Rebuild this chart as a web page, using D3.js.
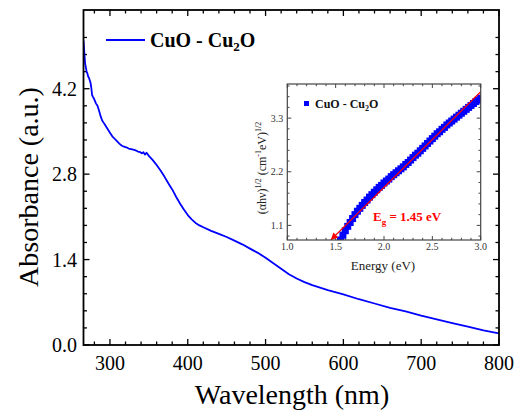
<!DOCTYPE html>
<html><head><meta charset="utf-8">
<script src="https://cdn.jsdelivr.net/npm/d3@7"></script>
<style>body{margin:0;background:#fff}svg{display:block}</style>
</head><body>
<svg id="c" width="517" height="415" font-family="'Liberation Serif', Tinos, 'DejaVu Serif', 'Times New Roman', serif"></svg>
<script>
// Main spectrum: wavelength (nm) and absorbance (a.u.)
const wavelength = [266,267,268,269,270,271,272,273,274,275,276,277,278,279,280,282,284,286,288,290,292,294,296,298,300,303,306,309,312,315,318,321,324,327,330,333,336,339,341,343,345,347,350,355,360,365,370,375,380,385,390,395,400,405,410,415,420,430,440,450,460,470,480,490,500,510,520,530,540,550,560,570,580,600,620,640,660,680,700,720,740,760,780,800];
const absorbance = [4.99,4.80,4.62,4.55,4.48,4.45,4.40,4.38,4.34,4.30,4.22,4.10,4.07,4.05,4.02,3.96,3.92,3.84,3.75,3.68,3.64,3.60,3.56,3.52,3.48,3.42,3.38,3.34,3.30,3.27,3.25,3.24,3.22,3.21,3.20,3.19,3.17,3.16,3.14,3.16,3.12,3.15,3.10,3.03,2.95,2.86,2.76,2.65,2.55,2.43,2.32,2.22,2.13,2.06,2.00,1.96,1.93,1.87,1.82,1.77,1.71,1.65,1.58,1.51,1.43,1.34,1.25,1.16,1.09,1.03,0.98,0.94,0.90,0.83,0.75,0.68,0.61,0.55,0.48,0.42,0.36,0.30,0.24,0.19];
const xTicks = [300,400,500,600,700,800];
const yTicks = [0.0,1.4,2.8,4.2];

// Inset Tauc plot
const energy = [1.55,1.575,1.60,1.625,1.65,1.675,1.70,1.725,1.75,1.775,1.80,1.825,1.85,1.875,1.90,1.925,1.95,1.975,2.00,2.025,2.05,2.075,2.10,2.125,2.15,2.175,2.20,2.225,2.25,2.275,2.30,2.325,2.35,2.375,2.40,2.425,2.45,2.475,2.50,2.525,2.55,2.575,2.60,2.625,2.65,2.675,2.70,2.725,2.75,2.775,2.80,2.825,2.85,2.875,2.90,2.925,2.95,2.975,3.00];
const tauc = [0.80,0.90,0.99,1.08,1.16,1.24,1.32,1.39,1.45,1.51,1.57,1.62,1.68,1.73,1.78,1.83,1.88,1.92,1.97,2.01,2.05,2.10,2.14,2.18,2.22,2.26,2.30,2.35,2.39,2.44,2.49,2.54,2.58,2.63,2.68,2.73,2.78,2.83,2.88,2.93,2.98,3.02,3.07,3.11,3.16,3.20,3.24,3.28,3.32,3.36,3.40,3.44,3.48,3.52,3.56,3.60,3.64,3.67,3.71];
const fitLine = [[1.45,0.80],[3.00,3.84]];
const insetXTicks = [1.0,1.5,2.0,2.5,3.0];
const insetYTicks = [1.1,2.2,3.3];

const svg = d3.select("#c");
const L=83.5,R=499,T=10,B=345;
const x = d3.scaleLinear().domain([266,800]).range([L,R]);
const y = d3.scaleLinear().domain([0,5.49]).range([B,T]);

const defs = svg.append("defs");
defs.append("clipPath").attr("id","cp").append("rect").attr("x",L).attr("y",T).attr("width",R-L).attr("height",B-T);

function ticksMain(){
  const g = svg.append("g").attr("stroke","#000").attr("stroke-width",1.3);
  d3.range(280,801,20).forEach(v=>{
    const maj = v%100===0, len = maj?6:3.5;
    g.append("line").attr("x1",x(v)).attr("x2",x(v)).attr("y1",B).attr("y2",B-len);
    g.append("line").attr("x1",x(v)).attr("x2",x(v)).attr("y1",T).attr("y2",T+len);
  });
  d3.range(0,19).map(i=>i*0.28).filter(v=>v<=5.49).forEach((v,i)=>{
    const maj = i%5===0, len = maj?6:3.5;
    g.append("line").attr("x1",L).attr("x2",L+len).attr("y1",y(v)).attr("y2",y(v));
    g.append("line").attr("x1",R).attr("x2",R-len).attr("y1",y(v)).attr("y2",y(v));
  });
}
ticksMain();

svg.append("g").attr("clip-path","url(#cp)").append("path")
  .datum(wavelength.map((w,i)=>[w,absorbance[i]]))
  .attr("fill","none").attr("stroke","#0000ff").attr("stroke-width",1.8).attr("stroke-linejoin","round")
  .attr("d",d3.line().x(d=>x(d[0])).y(d=>y(d[1])));

svg.append("rect").attr("x",L).attr("y",T).attr("width",R-L).attr("height",B-T)
  .attr("fill","none").attr("stroke","#000").attr("stroke-width",1.8);

svg.append("g").selectAll("text").data(xTicks).join("text")
  .attr("x",d=>x(d)).attr("y",370).attr("text-anchor","middle").attr("font-size",20).text(d=>d);
svg.append("g").selectAll("text").data(yTicks).join("text")
  .attr("x",77).attr("y",d=>y(d)+7).attr("text-anchor","end").attr("font-size",20).text(d=>d.toFixed(1));

svg.append("text").attr("x",292).attr("y",404).attr("text-anchor","middle").attr("font-size",28).text("Wavelength (nm)");
svg.append("text").attr("transform","translate(38,187) rotate(-90)").attr("text-anchor","middle").attr("font-size",28).text("Absorbance (a.u.)");

svg.append("line").attr("x1",106).attr("x2",145).attr("y1",40).attr("y2",40).attr("stroke","#0000ff").attr("stroke-width",2);
const lt = svg.append("text").attr("x",150).attr("y",47).attr("font-size",20).attr("font-weight","bold");
lt.append("tspan").text("CuO - Cu");
lt.append("tspan").attr("font-size",13).attr("dy",4).text("2");
lt.append("tspan").attr("dy",-4).text("O");

// ---------- inset ----------
const iL=287.3,iR=480.7,iT=84,iB=240;
const ix = d3.scaleLinear().domain([1,3]).range([iL,iR]);
const iy = d3.scaleLinear().domain([0.8,4.0]).range([iB,iT]);
const ig = svg.append("g");
ig.append("rect").attr("x",iL).attr("y",iT).attr("width",iR-iL).attr("height",iB-iT).attr("fill","#fff");
const itg = ig.append("g").attr("stroke","#444").attr("stroke-width",1);
d3.range(0,21).map(i=>1+i*0.1).forEach((v,i)=>{
  const len = i%5===0?4:2.2;
  itg.append("line").attr("x1",ix(v)).attr("x2",ix(v)).attr("y1",iB).attr("y2",iB-len);
  itg.append("line").attr("x1",ix(v)).attr("x2",ix(v)).attr("y1",iT).attr("y2",iT+len);
});
d3.range(-2,20).map(i=>1.1+i*0.22).filter(v=>v>=0.8&&v<=4.0).forEach(v=>{
  const maj = Math.abs(v/1.1-Math.round(v/1.1))<0.01, len = maj?4:2.2;
  itg.append("line").attr("x1",iL).attr("x2",iL+len).attr("y1",iy(v)).attr("y2",iy(v));
  itg.append("line").attr("x1",iR).attr("x2",iR-len).attr("y1",iy(v)).attr("y2",iy(v));
});

defs.append("clipPath").attr("id","icp").append("rect").attr("x",iL).attr("y",iT).attr("width",iR-iL).attr("height",iB-iT);
const ip = ig.append("g").attr("clip-path","url(#icp)");
ip.selectAll("rect").data(energy.map((e,i)=>[e,tauc[i]])).join("rect")
  .attr("x",d=>ix(d[0])-3.5).attr("y",d=>iy(d[1])-3.5).attr("width",7).attr("height",7).attr("fill","#0000ff");

defs.append("marker").attr("id","arr").attr("viewBox","0 0 10 10").attr("refX",10).attr("refY",5)
  .attr("markerWidth",10).attr("markerHeight",7).attr("markerUnits","userSpaceOnUse").attr("orient","auto-start-reverse")
  .append("path").attr("d","M0,0 L10,5 L0,10 z").attr("fill","#ff0000");
ip.append("line").attr("x1",ix(fitLine[0][0])).attr("y1",iy(fitLine[0][1])).attr("x2",ix(fitLine[1][0])).attr("y2",iy(fitLine[1][1]))
  .attr("stroke","#ff0000").attr("stroke-width",1.2).attr("marker-start","url(#arr)");

ig.append("rect").attr("x",iL).attr("y",iT).attr("width",iR-iL).attr("height",iB-iT).attr("fill","none").attr("stroke","#444").attr("stroke-width",1.2);

ig.append("g").selectAll("text").data(insetXTicks).join("text")
  .attr("x",d=>ix(d)).attr("y",250).attr("text-anchor","middle").attr("font-size",10).attr("fill","#333").text(d=>d.toFixed(1));
ig.append("g").selectAll("text").data(insetYTicks).join("text")
  .attr("x",iL-4).attr("y",d=>iy(d)+3.5).attr("text-anchor","end").attr("font-size",10).attr("fill","#333").text(d=>d.toFixed(1));

ig.append("text").attr("x",383).attr("y",270).attr("text-anchor","middle").attr("font-size",13).attr("fill","#222").text("Energy (eV)");
const yl = ig.append("text").attr("transform","translate(266,168) rotate(-90)").attr("text-anchor","middle").attr("font-size",12).attr("fill","#222");
yl.append("tspan").text("(\u03B1h\u03BD)");
yl.append("tspan").attr("font-size",8).attr("dy",-5).text("1/2");
yl.append("tspan").attr("dy",5).text(" (cm");
yl.append("tspan").attr("font-size",8).attr("dy",-5).text("-1");
yl.append("tspan").attr("dy",5).text("eV)");
yl.append("tspan").attr("font-size",8).attr("dy",-5).text("1/2");

ig.append("rect").attr("x",304).attr("y",101).attr("width",5).attr("height",5).attr("fill","#0000ff");
const il = ig.append("text").attr("x",315).attr("y",108).attr("font-size",12).attr("font-weight","bold").attr("fill","#111");
il.append("tspan").text("CuO - Cu");
il.append("tspan").attr("font-size",8).attr("dy",3).text("2");
il.append("tspan").attr("dy",-3).text("O");

const eg = ig.append("text").attr("x",373).attr("y",221).attr("font-size",13).attr("font-weight","bold").attr("fill","#ff0000");
eg.append("tspan").text("E");
eg.append("tspan").attr("font-size",9).attr("dy",4).text("g");
eg.append("tspan").attr("dy",-4).text(" = 1.45 eV");
</script>
</body></html>
